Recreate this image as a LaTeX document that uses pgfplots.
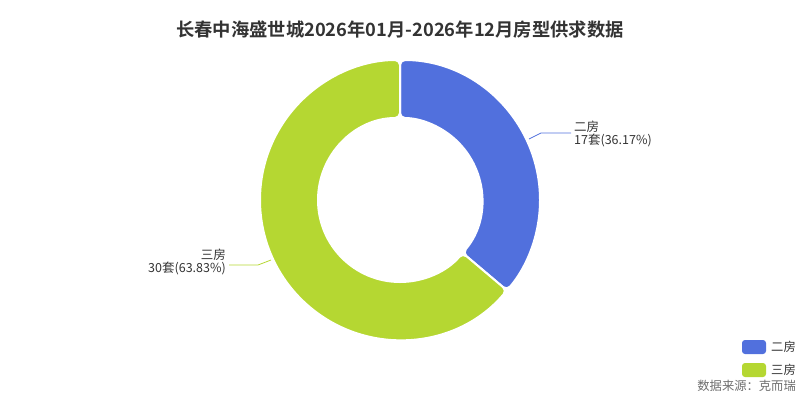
\documentclass[border=0pt]{standalone}
\usepackage{pgfplots}
\pgfplotsset{compat=1.18}
\usepackage{fontspec}
\setmainfont{Noto Sans CJK SC}
\newfontfamily\cjkb{Noto Sans CJK SC Bold}
\usetikzlibrary{calc}
\definecolor{cA}{RGB}{81,112,221}
\definecolor{cB}{RGB}{181,215,50}
\definecolor{txt}{RGB}{51,51,51}
\definecolor{src}{RGB}{110,110,110}
\begin{document}
\begin{tikzpicture}[x=1pt,y=1pt]
\path[use as bounding box] (0,0) rectangle (800,400);
\begin{axis}[at={(0,0)},anchor=south west,width=800pt,height=400pt,scale only axis,
  xmin=0,xmax=800,ymin=0,ymax=400,y dir=reverse,axis lines=none,clip=false]
\def\va{17}\def\vb{30}
\pgfmathsetmacro\tot{\va+\vb}
\pgfmathsetmacro\aA{90}
\pgfmathsetmacro\aB{90-360*\va/\tot}
\pgfmathsetmacro\aC{90-360}
% slices
\fill[cA,draw=white,line width=2pt,rounded corners=5pt] ($(axis cs:400,200)+(\aA:140pt)$) arc[start angle=\aA,end angle=\aB,radius=140pt] -- ($(axis cs:400,200)+(\aB:82pt)$) arc[start angle=\aB,end angle=\aA,radius=82pt] -- cycle;
\fill[cB,draw=white,line width=2pt,rounded corners=5pt] ($(axis cs:400,200)+(\aB:140pt)$) arc[start angle=\aB,end angle=\aC,radius=140pt] -- ($(axis cs:400,200)+(\aC:82pt)$) arc[start angle=\aC,end angle=\aB,radius=82pt] -- cycle;
% leader lines
\draw[cA,line width=0.8pt] (axis cs:529,139) -- (axis cs:541,133) -- (axis cs:571,133);
\draw[cB,line width=0.8pt] (axis cs:271,260) -- (axis cs:258,265) -- (axis cs:229,265);
% labels
\node[anchor=west,inner sep=0pt,text=txt,font=\fontsize{12.5}{12.5}\selectfont,align=left] at (axis cs:574,134) {二房\\17套(36.17\%)};
\node[anchor=east,inner sep=0pt,text=txt,font=\fontsize{12.5}{12.5}\selectfont,align=right] at (axis cs:226,262) {三房\\30套(63.83\%)};
% title
\node[text=txt,font=\cjkb\fontsize{18.3}{20}\selectfont] at (axis cs:400,30) {长春中海盛世城2026年01月-2026年12月房型供求数据};
% legend
\fill[cA,rounded corners=3pt] (axis cs:742,340) rectangle (axis cs:766,354);
\fill[cB,rounded corners=3pt] (axis cs:742,363) rectangle (axis cs:766,377);
\node[anchor=west,inner sep=0pt,text=txt,font=\fontsize{12.3}{12}\selectfont] at (axis cs:771,347) {二房};
\node[anchor=west,inner sep=0pt,text=txt,font=\fontsize{12.3}{12}\selectfont] at (axis cs:771,370) {三房};
\node[anchor=east,inner sep=0pt,text=src,font=\fontsize{12.3}{12}\selectfont] at (axis cs:796,386) {数据来源：克而瑞};
\end{axis}
\end{tikzpicture}
\end{document}
